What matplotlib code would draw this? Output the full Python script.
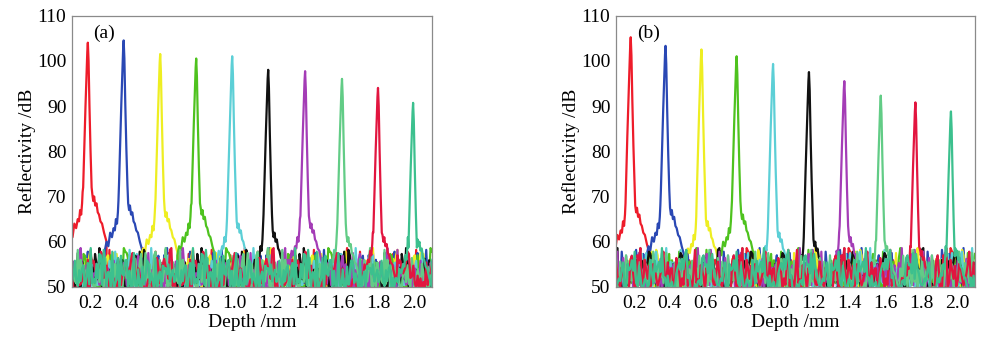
import matplotlib
matplotlib.use("Agg")
import matplotlib.pyplot as plt
import numpy as np

plt.rcParams['font.family'] = ['Liberation Serif', 'DejaVu Serif']

# colours of the ten reflector curves, in depth order
COLORS = ['#ee1c2a', '#2a48b4', '#eeee22', '#4ec21e', '#5ccfd6',
          '#111111', '#a43cb6', '#62cc86', '#e2153f', '#3cc08e']

# panel (a): peak depth (mm), peak height (dB), skirt level (dB)
DEPTH_A = [0.188, 0.387, 0.590, 0.790, 0.990, 1.190, 1.395, 1.600, 1.800, 1.995]
PEAK_A = [104.0, 104.5, 101.5, 100.5, 101.0, 98.0, 97.7, 96.0, 94.0, 90.7]
SKIRT_A = [69.0, 67.0, 65.5, 66.0, 63.0, 61.0, 63.0, 60.0, 60.0, 59.0]

# panel (b)
DEPTH_B = [0.182, 0.376, 0.576, 0.772, 0.975, 1.175, 1.372, 1.575, 1.768, 1.966]
PEAK_B = [105.2, 103.3, 102.5, 101.0, 99.3, 97.5, 95.5, 92.3, 90.8, 88.8]
SKIRT_B = [66.5, 66.0, 63.5, 65.0, 61.0, 59.0, 60.0, 58.0, 57.0, 57.0]

# peak core: offset from peak depth (mm) and drop below peak (dB)
CORE_DX = [-0.026, -0.019, -0.013, -0.008, -0.003, 0.0, 0.004, 0.009, 0.015, 0.021]
CORE_DROP = [32.0, 22.0, 14.0, 8.0, 2.0, 0.0, 4.0, 14.0, 24.0, 32.0]

# skirt wings: offset (mm) and level relative to skirt (dB)
LEFT_DX = [-0.105, -0.095, -0.085, -0.075, -0.065, -0.056, -0.049, -0.043, -0.037, -0.032, -0.029]
LEFT_OFF = [-9.0, -7.0, -8.0, -5.0, -6.0, -4.0, -4.5, -2.0, -3.0, -0.5, 2.0]
RIGHT_DX = [0.025, 0.030, 0.035, 0.041, 0.048, 0.055, 0.062, 0.070, 0.079, 0.090, 0.104]
RIGHT_OFF = [1.5, 0.0, 1.0, -1.0, -0.5, -2.5, -3.0, -4.5, -5.0, -7.0, -9.0]

# noise floor samples (dB)
NOISE = [53.1, 50.2, 55.4, 51.8, 49.0, 56.2, 52.5, 50.8, 54.7, 49.5, 57.3, 51.2,
         53.9, 50.1, 55.8, 52.2, 49.3, 54.1, 51.5, 56.9, 50.6, 53.4, 49.8, 55.1,
         52.8, 50.4, 58.2, 51.1, 54.5, 49.6, 53.7, 50.9, 56.4, 52.0, 49.2, 55.6,
         51.7, 54.0, 50.3, 57.0, 52.6, 49.9, 53.3, 51.4, 55.9, 50.7, 54.8, 49.4,
         52.9, 58.6, 50.0, 53.6, 51.9, 55.0, 49.7, 54.3, 52.3, 50.5, 57.8, 51.3,
         53.0, 49.1, 55.3, 52.1, 56.0, 50.9, 54.2, 57.5, 50.4, 53.8, 49.6]
STRIDES = [1, 5, 7, 9, 11, 13, 17, 19, 23, 29]

X_TICKS = [0.2, 0.4, 0.6, 0.8, 1.0, 1.2, 1.4, 1.6, 1.8, 2.0]
Y_TICKS = [50, 60, 70, 80, 90, 100, 110]
STEP = 0.008


def curve(i, panel, depth, peak, skirt):
    grid = np.arange(0.1, 2.1 + STEP, STEP)
    n = len(NOISE)
    idx = [(3 * i + 11 * panel + j * STRIDES[(i + 3 * panel) % 10]) % n
           for j in range(len(grid))]
    noise = np.array([NOISE[k] for k in idx])
    left = grid < depth + LEFT_DX[0]
    right = grid > depth + RIGHT_DX[-1]
    xs = np.concatenate([grid[left],
                         depth + np.array(LEFT_DX),
                         depth + np.array(CORE_DX),
                         depth + np.array(RIGHT_DX),
                         grid[right]])
    ys = np.concatenate([noise[left],
                         skirt + np.array(LEFT_OFF),
                         peak - np.array(CORE_DROP),
                         skirt + np.array(RIGHT_OFF),
                         noise[right]])
    return xs, ys


def draw_panel(ax, panel, depths, peaks, skirts, tag):
    for i in range(10):
        xs, ys = curve(i, panel, depths[i], peaks[i], skirts[i])
        ax.plot(xs, ys, color=COLORS[i], lw=1.6)
    ax.set_xlim(0.1, 2.1)
    ax.set_ylim(50, 110)
    ax.set_xticks(X_TICKS)
    ax.set_xticklabels(['%.1f' % t for t in X_TICKS])
    ax.set_yticks(Y_TICKS)
    ax.tick_params(length=0, labelsize=14)
    ax.tick_params(axis='x', pad=6)
    ax.tick_params(axis='y', pad=4)
    for s in ax.spines.values():
        s.set_color('#8a8a8a')
        s.set_linewidth(0.9)
    ax.set_xlabel('Depth /mm', fontsize=14, labelpad=1)
    ax.set_ylabel('Reflectivity /dB', fontsize=14, labelpad=1)
    ax.text(0.058, 0.935, tag, transform=ax.transAxes, fontsize=14,
            va='center', ha='left')


fig = plt.figure(figsize=(10, 3.38), dpi=100)
ax_a = fig.add_axes([0.072, 0.151, 0.360, 0.803])
ax_b = fig.add_axes([0.616, 0.151, 0.359, 0.803])
draw_panel(ax_a, 0, DEPTH_A, PEAK_A, SKIRT_A, '(a)')
draw_panel(ax_b, 1, DEPTH_B, PEAK_B, SKIRT_B, '(b)')
fig.savefig('out.png', dpi=100)
